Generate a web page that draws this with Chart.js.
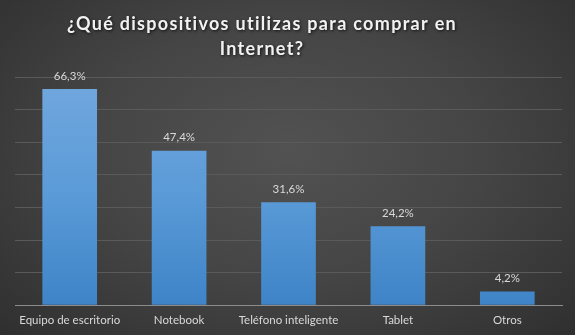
<!DOCTYPE html>
<html>
<head>
<meta charset="utf-8">
<script src="https://cdn.jsdelivr.net/npm/chart.js@4"></script>
<style>
  html, body { margin: 0; padding: 0; }
  body {
    width: 575px; height: 335px; overflow: hidden;
    background: radial-gradient(ellipse 75% 85% at 50% 45%, #525252 0%, #454545 45%, #2c2c2c 100%);
  }
  canvas { display: block; }
</style>
</head>
<body>
<canvas id="c" width="575" height="335"></canvas>
<script>
// Device types and the share of respondents using each one (%)
const categories = ["Equipo de escritorio", "Notebook", "Teléfono inteligente", "Tablet", "Otros"];
const shares = [66.3, 47.4, 31.6, 24.2, 4.2];
const titleLines = ["¿Qué dispositivos utilizas para comprar en", "Internet?"];

const labelColor = "#d9d9d9";
const labelFont = "'Lato', 'Open Sans', sans-serif";

// Two-line heading with a soft drop shadow and slightly spaced letters
const heading = {
  id: "heading",
  afterDraw(chart) {
    const ctx = chart.ctx;
    ctx.save();
    ctx.font = "bold 18px 'Lato', sans-serif";
    ctx.letterSpacing = "1.3px";
    ctx.fillStyle = "#f2f2f2";
    ctx.textAlign = "center";
    ctx.textBaseline = "middle";
    ctx.shadowColor = "rgba(0,0,0,0.75)";
    ctx.shadowBlur = 3;
    ctx.shadowOffsetX = 1;
    ctx.shadowOffsetY = 1.5;
    const cx = 262;
    titleLines.forEach((line, i) => ctx.fillText(line, cx, 24 + i * 25));
    ctx.restore();
  }
};

// Prints each bar's value above it, in Spanish decimal notation
const valueLabels = {
  id: "valueLabels",
  afterDatasetsDraw(chart) {
    const ctx = chart.ctx;
    const meta = chart.getDatasetMeta(0);
    ctx.save();
    ctx.font = "11.5px " + labelFont;
    ctx.fillStyle = labelColor;
    ctx.textAlign = "center";
    ctx.textBaseline = "middle";
    meta.data.forEach((bar, i) => {
      const txt = shares[i].toFixed(1).replace(".", ",") + "%";
      ctx.fillText(txt, bar.x, bar.y - 13);
    });
    ctx.restore();
  }
};

// Vertical blue gradient for the bars
function barFill(context) {
  const area = context.chart.chartArea;
  if (!area) return "#5b9bd5";
  const g = context.chart.ctx.createLinearGradient(0, area.top, 0, area.bottom);
  g.addColorStop(0, "#72a7de");
  g.addColorStop(0.5, "#5b9bd8");
  g.addColorStop(1, "#3e84c7");
  return g;
}

new Chart(document.getElementById("c"), {
  type: "bar",
  data: {
    labels: categories,
    datasets: [{
      data: shares,
      backgroundColor: barFill,
      borderWidth: 0,
      categoryPercentage: 0.5,
      barPercentage: 1.0
    }]
  },
  options: {
    responsive: false,
    animation: false,
    devicePixelRatio: 1,
    layout: { padding: { left: 15, right: 13, top: 77, bottom: 0 } },
    plugins: {
      legend: { display: false },
      tooltip: { enabled: false },
      title: { display: false }
    },
    scales: {
      x: {
        grid: { display: false, drawTicks: false },
        border: { display: true, color: "#8c8c8c", width: 1 },
        ticks: {
          color: labelColor,
          font: { family: labelFont, size: 11.5 },
          padding: 8,
          maxRotation: 0
        }
      },
      y: {
        min: 0,
        max: 70,
        ticks: { stepSize: 10, display: false },
        grid: { color: "#5a5a5a", lineWidth: 1, drawTicks: false },
        border: { display: false }
      }
    }
  },
  plugins: [valueLabels, heading]
});
</script>
</body>
</html>
